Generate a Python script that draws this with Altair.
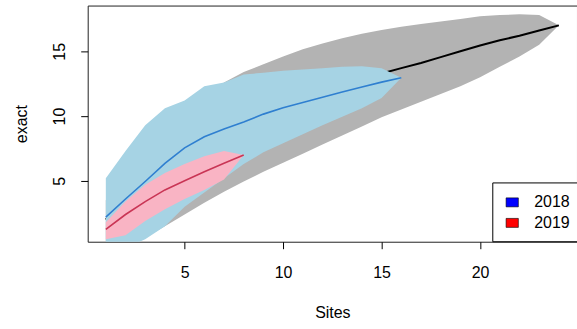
import altair as alt
import pandas as pd

# Species accumulation (exact method): mean richness with +/- 2 SD envelope
sites_all = list(range(1, 25))
all_mean = [2.0, 3.9, 5.4, 6.6, 7.6, 8.45, 9.2, 9.85, 10.45, 11.0, 11.5, 11.98,
            12.42, 12.85, 13.28, 13.7, 14.1, 14.55, 15.0, 15.45, 15.85, 16.2, 16.6, 17.0]
all_upper = [3.5, 5.6, 7.2, 8.7, 10.0, 11.4, 12.6, 13.4, 14.0, 14.6, 15.15, 15.6,
             16.0, 16.35, 16.65, 16.9, 17.1, 17.3, 17.5, 17.7, 17.8, 17.85, 17.8, 17.0]
all_lower = [-0.5, -0.2, 0.6, 1.5, 2.4, 3.3, 4.15, 4.95, 5.7, 6.4, 7.1, 7.8,
             8.5, 9.2, 9.9, 10.5, 11.1, 11.7, 12.3, 13.0, 13.8, 14.6, 15.5, 17.0]

sites_2018 = list(range(1, 17))
mean_2018 = [2.2, 3.6, 4.95, 6.35, 7.55, 8.4, 9.0, 9.55, 10.15, 10.65, 11.05, 11.45,
             11.85, 12.25, 12.62, 12.96]
upper_2018 = [5.2, 7.3, 9.3, 10.6, 11.2, 12.3, 12.6, 13.2, 13.35, 13.5, 13.6, 13.7,
              13.8, 13.85, 13.7, 12.96]
lower_2018 = [-0.8, -0.2, 0.5, 1.5, 3.0, 4.1, 5.2, 6.3, 7.2, 7.9, 8.6, 9.3,
              9.95, 10.6, 11.4, 12.96]

sites_2019 = list(range(1, 9))
mean_2019 = [1.25, 2.4, 3.4, 4.3, 5.0, 5.7, 6.35, 7.0]
upper_2019 = [1.8, 3.4, 4.7, 5.6, 6.3, 6.9, 7.3, 7.0]
lower_2019 = [0.5, 0.8, 1.9, 2.8, 3.6, 4.3, 5.1, 7.0]

years = ["2018", "2019"]
year_colors = ["#0000ff", "#ff0000"]

df_all = pd.DataFrame({"site": sites_all, "mean": all_mean,
                       "lower": all_lower, "upper": all_upper})
df_2018 = pd.DataFrame({"site": sites_2018, "mean": mean_2018,
                        "lower": lower_2018, "upper": upper_2018})
df_2019 = pd.DataFrame({"site": sites_2019, "mean": mean_2019,
                        "lower": lower_2019, "upper": upper_2019})
df_legend = pd.DataFrame({"year": years})

FONT = "Liberation Sans"

x_scale = alt.Scale(domain=[0.08, 24.92], nice=False, zero=False)
y_scale = alt.Scale(domain=[0.3, 18.53], nice=False, zero=False)

x_axis = alt.Axis(values=[5, 10, 15, 20], title="Sites", labelBaseline="alphabetic",
                  labelPadding=29, titleX=245.5, titleY=76, titleBaseline="alphabetic",
                  titleAlign="center")
y_axis = alt.Axis(values=[5, 10, 15], title="exact", labelAngle=270, labelAlign="center",
                  labelBaseline="alphabetic", labelPadding=16, titleAngle=270,
                  titleX=-61, titleY=118.5, titleAlign="center", titleBaseline="alphabetic")

X = alt.X("site:Q", scale=x_scale, axis=x_axis)
Xn = alt.X("site:Q", scale=x_scale)


def band(df, color):
    return alt.Chart(df).mark_area(color=color, opacity=1, clip=True).encode(
        x=Xn, y=alt.Y("lower:Q", scale=y_scale), y2="upper:Q")


def curve(df, color, width):
    return alt.Chart(df).mark_line(color=color, strokeWidth=width, clip=True).encode(
        x=Xn, y=alt.Y("mean:Q", scale=y_scale))


gray_band = alt.Chart(df_all).mark_area(color="#b3b3b3", opacity=1, clip=True).encode(
    x=X, y=alt.Y("lower:Q", scale=y_scale, axis=y_axis), y2="upper:Q")

legend_layer = alt.Chart(df_legend).mark_square(opacity=0).encode(
    color=alt.Color("year:N", scale=alt.Scale(domain=years, range=year_colors),
                    legend=alt.Legend(title=None, orient="none", legendX=406, legendY=177.5,
                                      direction="vertical",
                                      symbolType="M-0.647,-0.474H0.647V0.474H-0.647Z",
                                      symbolSize=361, symbolOpacity=1,
                                      symbolStrokeColor="black", symbolStrokeWidth=0.6,
                                      labelFont=FONT, labelFontSize=16, labelColor="black",
                                      labelOffset=12, padding=10, rowPadding=2.6,
                                      strokeColor="black", fillColor="white")))

chart = alt.layer(
    gray_band,
    curve(df_all, "black", 2),
    band(df_2018, "#a6d3e4"),
    curve(df_2018, "#2f7fd0", 1.6),
    band(df_2019, "#f9b4c4"),
    curve(df_2019, "#c93555", 1.6),
    legend_layer,
).properties(
    width=491, height=237,
    autosize=alt.AutoSizeParams(type="none"),
    padding={"left": 88, "top": 5, "right": 0, "bottom": 87},
    background="white",
).configure_view(
    stroke="#222222", strokeWidth=1
).configure_axis(
    grid=False, domain=False, tickSize=7, tickColor="black", tickWidth=1,
    labelFont=FONT, labelFontSize=16, labelColor="black",
    titleFont=FONT, titleFontSize=16, titleFontWeight="normal", titleColor="black",
    labelOverlap=False, labelFlush=False,
)

chart.save("out.html", embed_options={"renderer": "svg", "actions": False})
